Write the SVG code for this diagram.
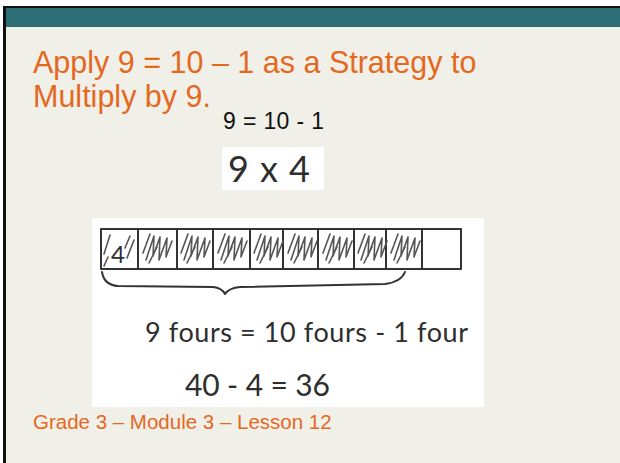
<svg xmlns="http://www.w3.org/2000/svg" width="620" height="463" viewBox="0 0 620 463">
<style>
.title{font-family:"Liberation Sans",Arial,sans-serif;fill:#E4691F}
.hand{font-family:"Lato","Open Sans",sans-serif;font-weight:400;fill:#2e2e2e}
.ink{fill:none;stroke:#333;stroke-width:2;stroke-linecap:round;stroke-linejoin:round}
.hatch{fill:none;stroke:#555;stroke-width:1.6;stroke-linecap:round;stroke-linejoin:round}
</style>
<defs>
<path id="scribble" class="hatch" d="M4,24 L11,5 M7,31 L15,7 L14,27 L21,8 L20,31 L28,9 L27,28 L33,12 M10,34 L18,18"/>
</defs>
<rect x="0" y="0" width="620" height="463" fill="#ffffff"/>
<rect x="3" y="6" width="617" height="457" fill="#111"/>
<rect x="6" y="8" width="614" height="455" fill="#F0EFE8"/>
<rect x="6" y="8" width="614" height="19" fill="#2F6F76"/>
<g id="title">
<text class="title" x="33" y="73" font-size="30.5">Apply 9 = 10 – 1 as a Strategy to</text>
<text class="title" x="33" y="107" font-size="30.5">Multiply by 9.</text>
</g>
<g id="equation">
<text x="223" y="129" font-family="Liberation Sans, Arial, sans-serif" font-size="23" fill="#111" textLength="101" lengthAdjust="spacing">9 = 10 - 1</text>
</g>
<g id="problem">
<rect x="222" y="147" width="102" height="43" fill="#ffffff"/>
<text class="hand" x="228" y="182" font-size="36" textLength="82" lengthAdjust="spacing">9 x 4</text>
</g>
<g id="tape-diagram">
<rect x="92" y="218" width="392" height="189" fill="#ffffff"/>
<rect class="ink" x="101" y="229" width="360" height="40"/>
<path class="ink" d="M138,229 V269 M177,229 V269 M213,229 V269 M250,229 V269 M283,229 V269 M318,229 V269 M354,229 V269 M386,229 V269 M422,229 V269"/>
<path class="hatch" d="M104,254 L110,235 M127,258 L134,240 M125,248 L130,236 M104,266 L108,257"/>
<text class="hand" x="111" y="263" font-size="24">4</text>
<use href="#scribble" x="139" y="229"/>
<use href="#scribble" x="177" y="229"/>
<use href="#scribble" x="214" y="229"/>
<use href="#scribble" x="250" y="229"/>
<use href="#scribble" x="284" y="229"/>
<use href="#scribble" x="319" y="229"/>
<use href="#scribble" x="354" y="229"/>
<use href="#scribble" x="387" y="229"/>
<path class="ink" d="M102,272 Q104,285 118,286 L213,287 Q222,288 225,294 Q229,288 240,287 L385,284 Q401,282 405,272"/>
<text class="hand" x="145" y="342" font-size="27" textLength="323" lengthAdjust="spacing">9 fours =  10 fours - 1 four</text>
<text class="hand" x="185" y="396" font-size="30" textLength="145" lengthAdjust="spacing">40 - 4 = 36</text>
</g>
<g id="footer">
<text class="title" x="33" y="429" font-size="20.5">Grade 3 – Module 3 – Lesson 12</text>
</g>
</svg>
